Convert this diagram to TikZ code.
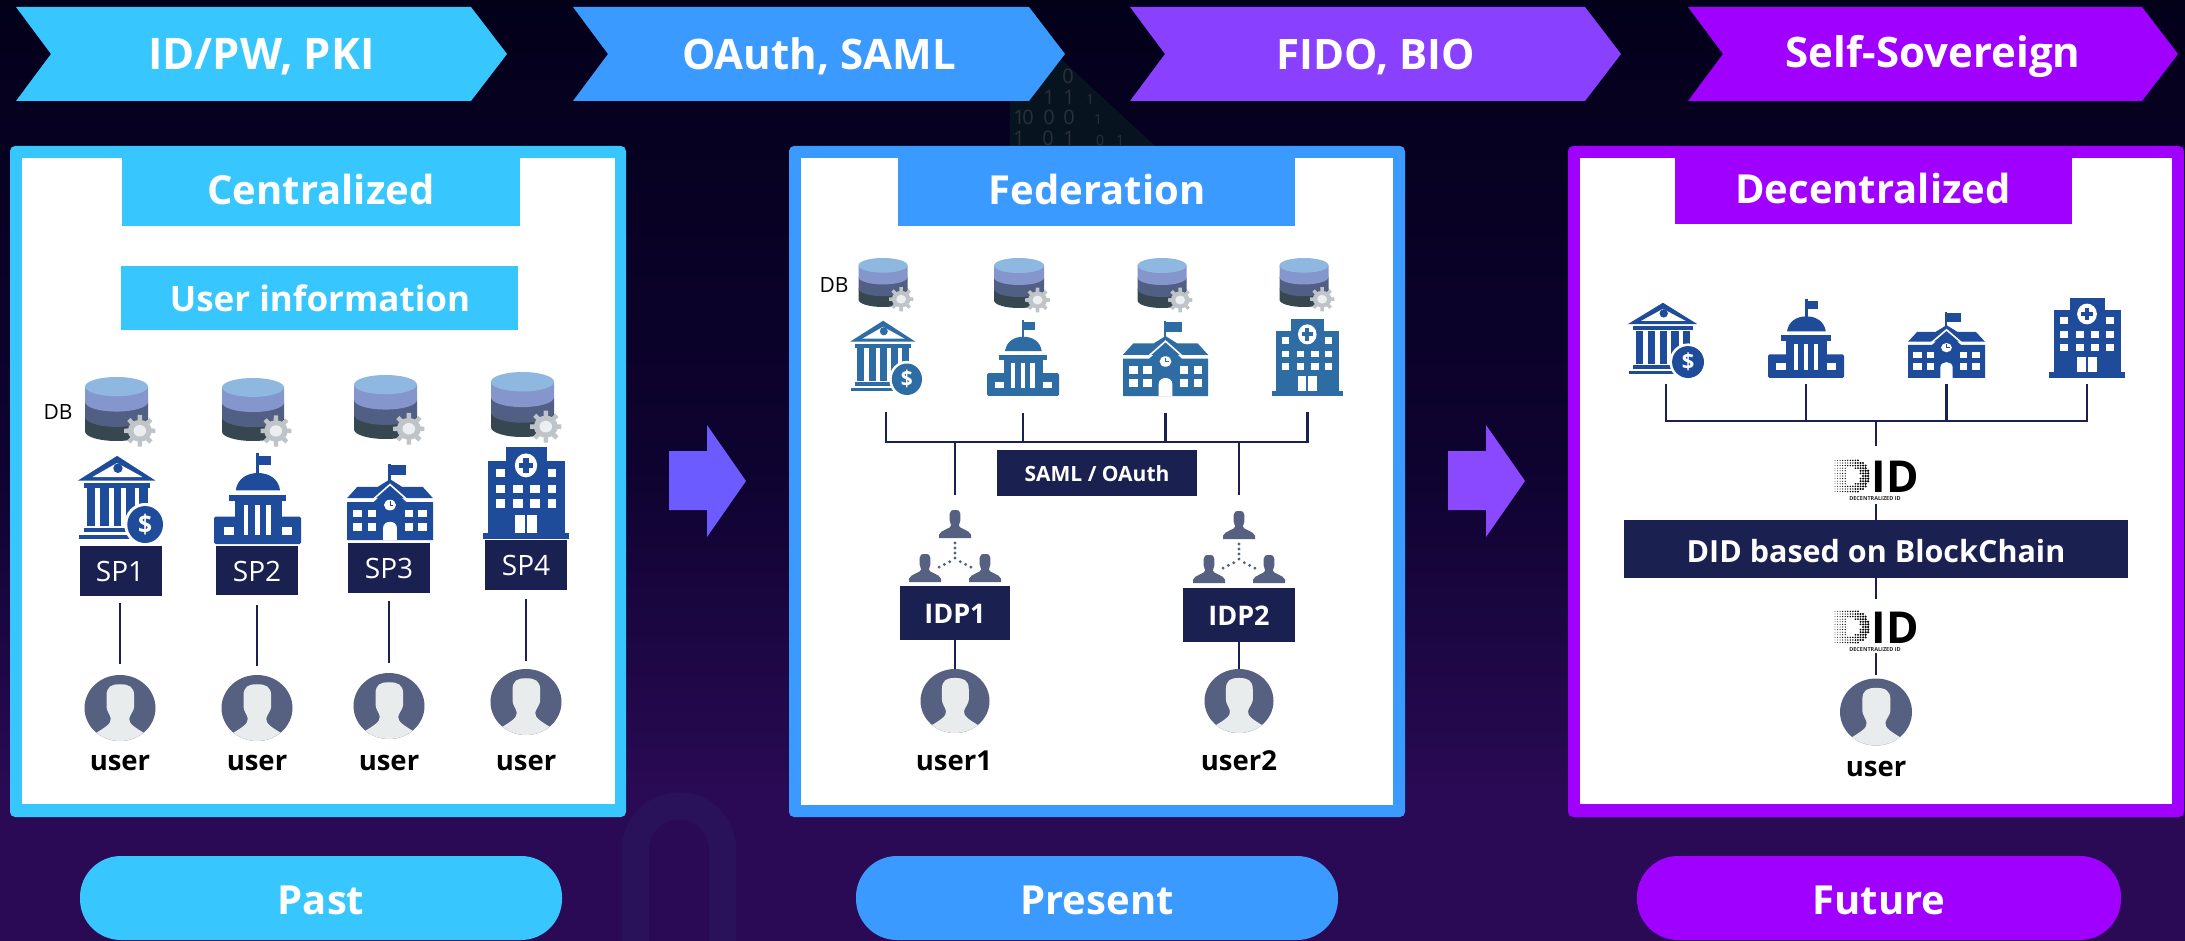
\documentclass[tikz,border=0pt]{standalone}
\usepackage{fontspec}
\setmainfont{Open Sans}
\definecolor{bgtop}{HTML}{03001A}
\definecolor{bgmid}{HTML}{0E0330}
\definecolor{bgbot}{HTML}{2A0A55}
\definecolor{cyanc}{HTML}{38C6FF}
\definecolor{bluec}{HTML}{3A9AFF}
\definecolor{violc}{HTML}{8A40FF}
\definecolor{purpc}{HTML}{A000FF}
\definecolor{arrowa}{HTML}{6C5CFF}
\definecolor{arrowb}{HTML}{8A48FF}
\definecolor{navy}{HTML}{1A2151}
\definecolor{icondark}{HTML}{1E4B9A}
\definecolor{iconmid}{HTML}{2E6DA4}
\definecolor{person}{HTML}{566080}
\definecolor{face}{HTML}{E8ECEC}
\definecolor{dba}{HTML}{8FB8E0}
\definecolor{dbb}{HTML}{8496CC}
\definecolor{dbc}{HTML}{525F85}
\definecolor{dbd}{HTML}{37474F}
\definecolor{gearc}{HTML}{BFC4C8}
\definecolor{gearl}{HTML}{ECEEEF}
\definecolor{wmfill}{HTML}{071420}
\definecolor{wmtext}{HTML}{2A3038}
\definecolor{wmring}{HTML}{29125A}
\tikzset{
  conn/.style={draw=navy,line width=2.6pt},
  wtext/.style={text=white,font=\bfseries\fontsize{#1}{#1}\selectfont,anchor=base,inner sep=0pt},
  btext/.style={text=black,font=\bfseries\fontsize{#1}{#1}\selectfont,anchor=base,inner sep=0pt},
  rtext/.style={text=white,font=\fontsize{#1}{#1}\selectfont,anchor=base,inner sep=0pt},
  dbtext/.style={text=black,font=\fontsize{21}{21}\selectfont,anchor=base,inner sep=0pt},
  wmdigit/.style={text=wmtext,font=\fontsize{#1}{#1}\selectfont,anchor=base,inner sep=0pt},
}
\newcommand{\wbox}[4]{\fill[white] (#1,#2) rectangle (#3,#4);}
\newcommand{\drawbank}{%
  \fill[ic] (46,1) -- (91,29) -- (0,29) -- cycle;
  \fill[white] (46,9) -- (76,25) -- (17,25) -- cycle;
  \fill[ic] (47,15) circle[radius=5.5];
  \fill[ic] (7,32) rectangle (85,37);
  \foreach \a/\b in {10/20,26/36,42/51,57/67,72/82}{\fill[ic] (\a,38) rectangle (\b,81);}
  \fill[ic] (7,83) rectangle (60,88);
  \fill[ic] (1,91) rectangle (62,95);
  \fill[white] (79,79) circle[radius=24.5];
  \fill[ic] (79,79) circle[radius=21];
  \node[text=white,font=\bfseries\fontsize{29}{29}\selectfont,inner sep=0pt] at (79,79) {\$};
}
\newcommand{\drawcapitol}{%
  \fill[ic] (48,0) rectangle (52,24);
  \fill[ic] (52,3) rectangle (66,13);
  \fill[ic] (25,41) .. controls (27,28) and (38,22) .. (50.5,22) .. controls (63,22) and (74,28) .. (76,41) -- cycle;
  \fill[ic] (17,46) rectangle (83,53);
  \fill[ic] (24,53) rectangle (78,72);
  \fill[ic,rounded corners=1.5] (0,70) rectangle (100,100);
  \foreach \a/\b in {34/39,47/53,60/66}{\fill[white] (\a,57) rectangle (\b,90);}
  \wbox{11}{81}{23}{90}
  \wbox{78}{81}{90}{90}
}
\newcommand{\drawschool}{%
  \fill[ic] (48,0) rectangle (51,24);
  \fill[ic] (51,1) rectangle (69,15);
  \fill[ic] (0,45) -- (12,30) -- (36,30) -- (50,20) -- (64,30) -- (88,30) -- (100,45) -- cycle;
  \draw[white,line width=1.6pt] (0,47) -- (30,47) -- (50,27) -- (70,47) -- (100,47);
  \fill[ic] (0,50) -- (31,50) -- (50,31) -- (69,50) -- (100,50) -- (100,100) -- (0,100) -- cycle;
  \fill[white] (50,54) circle[radius=7];
  \draw[ic,line width=.8pt] (50,49) -- (50,54) -- (54,54);
  \foreach \a/\b in {7/18,24/34,67/77,83/93}{
    \wbox{\a}{60}{\b}{70}
    \wbox{\a}{77}{\b}{88}
  }
  \fill[white] (42,100) -- (42,84) .. controls (42,79) and (46,76) .. (50,76) .. controls (54,76) and (58,79) .. (58,84) -- (58,100) -- cycle;
}
\newcommand{\drawhospital}{%
  \fill[ic] (27,0) rectangle (74,18);
  \fill[ic] (6,15) rectangle (95,95);
  \fill[ic] (0,93) rectangle (100,100);
  \fill[white] (50,20) circle[radius=13];
  \fill[ic] (47,12) rectangle (53,28);
  \fill[ic] (42,17.5) rectangle (58,22.5);
  \foreach \a/\b in {15/25,75/85}{\wbox{\a}{24}{\b}{33}}
  \foreach \a/\b in {15/25,35/46,55/66,75/85}{
    \wbox{\a}{41}{\b}{50}
    \wbox{\a}{57}{\b}{66}
  }
  \wbox{37}{74}{63}{93}
  \fill[ic] (48.5,74) rectangle (51.5,93);
}
\newcommand{\placeicon}[7]{%
  \begin{scope}[shift={(#3,#4)},xscale={(#5-#3)/100},yscale={(#6-#4)/100},transform shape]
    \colorlet{ic}{#7}\csname draw#1\endcsname
  \end{scope}
  \node[inner sep=0pt,outer sep=0pt,minimum width={(#5-#3)*1pt},minimum height={(#6-#4)*1pt}] (#2) at ({(#3+#5)/2},{(#4+#6)/2}) {};
}
\newcommand{\dbicon}[5]{%
  \begin{scope}[shift={(#1,#2)},xscale={#3/100},yscale={#4/100}]
    \fill[dbd] (0,62) -- (0,85) arc[start angle=180,end angle=0,x radius=50,y radius=15] -- (100,62) -- cycle;
    \fill[dbc] (0,39) -- (0,62) arc[start angle=180,end angle=0,x radius=50,y radius=16] -- (100,39) -- cycle;
    \fill[dbb] (0,15) -- (0,39) arc[start angle=180,end angle=0,x radius=50,y radius=15] -- (100,15) -- cycle;
    \fill[dba] (50,15) circle[x radius=50,y radius=15];
    \begin{scope}[shift={(#5,84)}]
      \fill[gearc] (0,0) circle[x radius=19,y radius=17];
      \foreach \a in {0,45,...,315}{
        \fill[gearc] (\a-13:16) -- (\a-8:25) -- (\a+8:25) -- (\a+13:16) -- cycle;
      }
      \fill[gearl] (0,0) circle[x radius=10,y radius=9];
    \end{scope}
  \end{scope}
}
\newcommand{\avatar}[5]{%
  \begin{scope}[shift={({#2-#4/2},{#3-#5/2})},xscale={#4/100},yscale={#5/100}]
    \fill[person] (50,50) circle[radius=50];
    \begin{scope}
      \clip (50,50) circle[radius=50];
      \fill[face] (31,32) .. controls (31,17) and (38,14) .. (50,14) .. controls (62,14) and (70,17) .. (70,32) -- (70,48) .. controls (70,54) and (64,60) .. (63,66) .. controls (62,74) and (72,80) .. (84,88) -- (84,105) -- (16,105) -- (16,88) .. controls (28,80) and (38,74) .. (37,66) .. controls (36,60) and (31,54) .. (31,48) -- cycle;
    \end{scope}
  \end{scope}
  \node[inner sep=0pt,outer sep=0pt,minimum width=#4pt,minimum height=#5pt] (#1) at (#2,#3) {};
}
\newcommand{\minip}[2]{%
  \begin{scope}[shift={({#1-16},#2)},xscale=.32,yscale=.28]
    \fill[person] (33,14) .. controls (33,3) and (40,0) .. (50,0) .. controls (60,0) and (67,3) .. (67,14) -- (67,36) .. controls (67,44) and (62,48) .. (62,56) .. controls (62,66) and (96,72) .. (100,88) -- (100,100) -- (0,100) -- (0,88) .. controls (4,72) and (38,66) .. (38,56) .. controls (38,48) and (33,44) .. (33,36) -- cycle;
  \end{scope}
}
\newcommand{\orgchart}[3]{%
  \minip{#1}{#2}
  \minip{#1-#3}{#2+44}
  \minip{#1+#3}{#2+44}
  \foreach \t in {0,1,2,3}{\fill[person] (#1,{#2+33+\t*5}) circle[radius=1.6];}
  \foreach \t in {1,2,3}{
    \fill[person] ({#1-\t*5.3},{#2+49+\t*2.7}) circle[radius=1.6];
    \fill[person] ({#1+\t*5.3},{#2+49+\t*2.7}) circle[radius=1.6];
  }
}
\newcommand{\didlogo}[3]{%
  \begin{scope}[shift={({#2-41},#3)}]
    \foreach \i in {0,...,13}{
      \foreach \j in {-6,...,6}{
        \pgfmathsetmacro{\px}{\i*2.55-17}
        \pgfmathsetmacro{\py}{\j*2.6}
        \pgfmathsetmacro{\keep}{and(or(\px<=0,\px*\px+\py*\py<=310),not(and(\px>-6,and(abs(\py)<9.5,(\px+6)*(\px+6)/220+\py*\py/90<1))))}
        \pgfmathsetmacro{\rr}{.4+.85*\i/13}
        \ifdim\keep pt>0.5pt
          \fill[black] ({\px+17},{\py+16}) circle[radius=\rr];
        \fi
      }
    }
    \node[text=black,font=\bfseries\fontsize{44}{44}\selectfont,inner sep=0pt,anchor=base] at (60,32) {ID};
    \node[text=black!85,font=\bfseries\fontsize{5.5}{5.5}\selectfont,inner sep=0pt,anchor=base] at (40,40) {DECENTRALIZED ID};
  \end{scope}
  \node[inner sep=0pt,outer sep=0pt,minimum width=82pt,minimum height=39pt] (#1) at (#2,{#3+19.5}) {};
}
\newcommand{\chev}[6]{%
  \fill[#4] (#2,7) -- ({#2+#3-36},7) -- ({#2+#3},54) -- ({#2+#3-36},101) -- (#2,101) -- ({#2+35},54) -- cycle;
  \node[wtext=42] (#1) at ({#2+#3/2},#6) {#5};
}
\newcommand{\panel}[7]{%
  \fill[#7,rounded corners=5pt] (#1,146) rectangle (#2,#3);
  \fill[white] (#4,158) rectangle (#5,#6);
}
\newcommand{\bigarrow}[2]{%
  \fill[#2] (#1,451) -- ({#1+38},451) -- ({#1+38},425) -- ({#1+77},481) -- ({#1+38},537) -- ({#1+38},510) -- (#1,510) -- cycle;
}
\newcommand{\pill}[5]{%
  \fill[#4,rounded corners=41pt] (#2,856) rectangle (#3,940);
  \node[wtext=40] (#1) at ({(#2+#3)/2},914) {#5};
}
\newcommand{\navynode}[5]{%
  \node[fill=navy,inner sep=0pt,outer sep=0pt,minimum width={(#4-#2)*1pt},minimum height={(#5-#3)*1pt}] (#1) at ({(#2+#4)/2},{(#3+#5)/2}) {};
}
\begin{document}
\begin{tikzpicture}[x=1pt,y=-1pt]
\useasboundingbox (0,0) rectangle (2185,941);
\begin{scope}
\clip (0,0) rectangle (2185,941);
% background
\shade[top color=bgtop,bottom color=bgmid] (0,0) rectangle (2185,470);
\shade[top color=bgmid,bottom color=bgbot] (0,470) rectangle (2185,800);
\fill[bgbot] (0,800) rectangle (2185,941);
% faint background figures
\fill[wmfill] (1010,60) -- (1062,60) -- (1155,146) -- (1010,146) -- cycle;
\node[wmdigit=20] (w1) at (1049,105) {1};
\node[wmdigit=20] (w2) at (1069,105) {1};
\node[wmdigit=20] (w3) at (1068,84) {0};
\node[wmdigit=20] (w4) at (1069,125) {0};
\node[wmdigit=20] (w5) at (1049,125) {0};
\node[wmdigit=20] (w6) at (1028,125) {0};
\node[wmdigit=20] (w7) at (1019,125) {1};
\node[wmdigit=20] (w8) at (1019,146) {1};
\node[wmdigit=20] (w9) at (1048,146) {0};
\node[wmdigit=20] (w10) at (1069,146) {1};
\node[wmdigit=14] (w11) at (1090,105) {1};
\node[wmdigit=14] (w12) at (1098,125) {1};
\node[wmdigit=14] (w13) at (1100,146) {0};
\node[wmdigit=14] (w14) at (1120,146) {1};
\draw[wmring,line width=27pt,rounded corners=43pt] (635.5,806) rectangle (722.5,1060);

% chevrons
\chev{c1}{16}{491}{cyanc}{\fontsize{43.5}{43.5}\selectfont ID/PW, PKI}{70}
\chev{c2}{573}{492}{bluec}{OAuth, SAML}{70}
\chev{c3}{1130}{491}{violc}{FIDO, BIO}{70}
\chev{c4}{1688}{490}{purpc}{Self-Sovereign}{68}

% panels
\panel{10}{626}{817}{22}{615}{804}{cyanc}
\panel{789}{1405}{817}{801}{1393}{805}{bluec}
\panel{1568}{2184}{817}{1580}{2172}{804}{purpc}

% headers
\fill[cyanc] (122,158) rectangle (520,226);
\node[wtext=40] (h1) at (321,205) {Centralized};
\fill[bluec] (898,158) rectangle (1295,226);
\node[wtext=40] (h2) at (1097,205) {Federation};
\fill[purpc] (1675,158) rectangle (2072,224);
\node[wtext=40] (h3) at (1873,204) {Decentralized};

% === Centralized ===
\fill[cyanc] (121,266) rectangle (518,330);
\node[wtext=35] (uinfo) at (320,312) {User information};
\node[dbtext] (db1) at (58,419) {DB};
\dbicon{85}{377}{63}{64}{87}
\dbicon{222}{378}{62}{63}{87}
\dbicon{354}{375}{63}{64}{87}
\dbicon{491}{372}{63}{65}{87}
\placeicon{bank}{a1}{78}{455}{163}{543}{icondark}
\placeicon{capitol}{a2}{214}{453}{301}{544}{icondark}
\placeicon{school}{a3}{347}{464}{433}{540}{icondark}
\placeicon{hospital}{a4}{483}{447}{569}{539}{icondark}
\navynode{spa}{80}{546}{162}{596}
\navynode{spb}{216}{546}{298}{595}
\navynode{spc}{348}{543}{430}{593}
\navynode{spd}{485}{540}{567}{590}
\node[rtext=28] (sp1) at (120,581) {SP1};
\node[rtext=28] (sp2) at (257,581) {SP2};
\node[rtext=28] (sp3) at (389,578) {SP3};
\node[rtext=28] (sp4) at (526,575) {SP4};
\avatar{ua}{120}{708}{71}{66}
\avatar{ub}{257}{708}{71}{66}
\avatar{uc}{389}{706}{71}{66}
\avatar{ud}{526}{702}{71}{66}
\draw[conn,shorten <=7pt,shorten >=11pt] (spa.south -| ua) -- (ua.north);
\draw[conn,shorten <=10pt,shorten >=9pt] (spb.south -| ub) -- (ub.north);
\draw[conn,shorten <=8pt,shorten >=10pt] (spc.south -| uc) -- (uc.north);
\draw[conn,shorten <=9pt,shorten >=8pt] (spd.south -| ud) -- (ud.north);
\node[btext=27.5] (la) at (120,770) {user};
\node[btext=27.5] (lb) at (257,770) {user};
\node[btext=27.5] (lc) at (389,770) {user};
\node[btext=27.5] (ld) at (526,770) {user};

% === Federation ===
\node[dbtext] (db2) at (834,293) {DB};
\dbicon{858.5}{258}{49}{49}{87}
\dbicon{994}{258}{50}{50}{87}
\dbicon{1137.5}{258}{49}{50}{87}
\dbicon{1279.5}{258}{49}{49}{87}
\placeicon{bank}{f1}{850}{320}{922}{395}{iconmid}
\placeicon{capitol}{f2}{987}{320}{1059}{396}{iconmid}
\placeicon{school}{f3}{1123}{321}{1208}{396}{iconmid}
\placeicon{hospital}{f4}{1271.5}{319}{1343}{396}{iconmid}
\coordinate (fbl) at (886,442);
\coordinate (fbr) at (1307,442);
\draw[conn,shorten <=17pt,shorten >=16pt] (f1.south) -- (f1.south |- fbl) -- (fbr -| f4.south) -- (f4.south);
\draw[conn,shorten <=17pt] (f2.south) -- (f2.south |- fbl);
\draw[conn,shorten <=17pt] (f3.south) -- (f3.south |- fbl);
\navynode{saml}{997}{450}{1197}{496}
\node[wtext=21] (samlt) at (1097,481) {SAML / OAuth};
\orgchart{955}{510}{30}
\orgchart{1239}{511}{30}
\navynode{idpa}{900}{586}{1010}{640}
\navynode{idpb}{1183}{588}{1295}{642}
\node[wtext=27] (idp1) at (955,623) {IDP1};
\node[wtext=27] (idp2) at (1239,625) {IDP2};
\coordinate (fd1) at (955,442);
\coordinate (fd1e) at (955,495);
\coordinate (fd2) at (1239,442);
\coordinate (fd2e) at (1239,495);
\draw[conn] (fd1) -- (fd1e);
\draw[conn] (fd2) -- (fd2e);
\avatar{ue}{955}{701}{69}{64}
\avatar{uf}{1239}{701}{69}{64}
\draw[conn] (idpa.south) -- (ue.north);
\draw[conn] (idpb.south) -- (uf.north);
\node[btext=27.5] (le) at (954,770) {user1};
\node[btext=27.5] (lf) at (1239,770) {user2};

% === Decentralized ===
\placeicon{bank}{d1}{1628}{302}{1704}{378}{icondark}
\placeicon{capitol}{d2}{1768}{299}{1844}{378}{icondark}
\placeicon{school}{d3}{1908}{312}{1985}{378}{icondark}
\placeicon{hospital}{d4}{2049}{298}{2125}{378}{icondark}
\coordinate (dbl) at (1665,421);
\draw[conn,shorten <=6pt,shorten >=6pt] (d1.south) -- (d1.south |- dbl) -- (d4.south |- dbl) -- (d4.south);
\draw[conn,shorten <=6pt] (d2.south) -- (d2.south |- dbl);
\draw[conn,shorten <=6pt] (d3.south) -- (d3.south |- dbl);
\didlogo{did1}{1876}{460}
\didlogo{did2}{1876}{611}
\navynode{didbox}{1624}{520}{2128}{578}
\node[wtext=30.5] (didb) at (1876,562) {DID based on BlockChain};
\avatar{ug}{1876}{712}{72}{67}
\coordinate (dj) at (1876,421);
\draw[conn,shorten >=14pt] (dj) -- (did1.north);
\draw[conn,shorten <=5pt] (did1.south) -- (didbox.north);
\draw[conn,shorten >=12pt] (didbox.south) -- (did2.north);
\draw[conn,shorten <=3pt,shorten >=4pt] (did2.south) -- (ug.north);
\node[btext=27.5] (lg) at (1876,776) {user};

% arrows
\bigarrow{669}{arrowa}
\bigarrow{1448}{arrowb}

% pills
\pill{p1}{80}{562}{cyanc}{Past}
\pill{p2}{856}{1338}{bluec}{Present}
\pill{p3}{1637}{2121}{purpc}{Future}
\end{scope}
\end{tikzpicture}
\end{document}
